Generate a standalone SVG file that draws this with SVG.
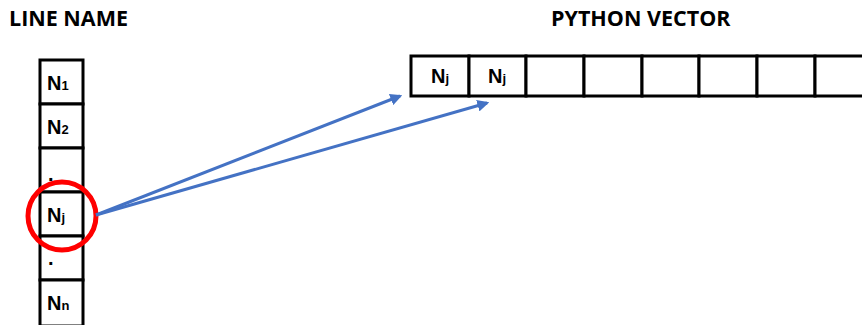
<svg xmlns="http://www.w3.org/2000/svg" width="862" height="325" viewBox="0 0 862 325">
  <style>
    .title { font-family: "Open Sans", "Liberation Sans", sans-serif; font-weight: bold; font-size: 21.5px; fill: #000; }
    .lbl { font-family: "Liberation Sans", Arial, sans-serif; font-weight: bold; font-size: 20px; fill: #000; }
    .sub { font-size: 13px; }
    .cell { fill: #fff; stroke: #000; stroke-width: 3; }
    .conn { stroke: #4472C4; stroke-width: 3; fill: none; marker-end: url(#arrow); }
  </style>
  <defs>
    <marker id="arrow" viewBox="0 0 10 10" refX="8" refY="5" markerWidth="4" markerHeight="4" orient="auto" markerUnits="strokeWidth">
      <path d="M0,0 L10,5 L0,10 z" fill="#4472C4"/>
    </marker>
  </defs>

  <rect width="862" height="325" fill="#fff"/>

  <text class="title" x="9" y="26">LINE NAME</text>
  <text class="title" x="551" y="26">PYTHON VECTOR</text>

  <!-- line name column -->
  <g id="col-n1">
    <rect class="cell" x="40" y="60" width="43" height="44"/>
    <text class="lbl" x="47" y="90">N<tspan class="sub">1</tspan></text>
  </g>
  <g id="col-n2">
    <rect class="cell" x="40" y="104" width="43" height="44"/>
    <text class="lbl" x="47" y="134">N<tspan class="sub">2</tspan></text>
  </g>
  <g id="col-dot1">
    <rect class="cell" x="40" y="148" width="43" height="44"/>
    <text class="lbl" x="48" y="181">.</text>
  </g>
  <g id="col-nj">
    <rect class="cell" x="40" y="192" width="43" height="44"/>
    <text class="lbl" x="47" y="222">N<tspan class="sub">j</tspan></text>
  </g>
  <g id="col-dot2">
    <rect class="cell" x="40" y="236" width="43" height="44"/>
    <text class="lbl" x="48" y="265">.</text>
  </g>
  <g id="col-nn">
    <rect class="cell" x="40" y="280" width="43" height="46"/>
    <text class="lbl" x="47" y="310">N<tspan class="sub">n</tspan></text>
  </g>

  <!-- highlight ring -->
  <g id="highlight">
    <circle cx="62" cy="216" r="34" fill="none" stroke="#FF0000" stroke-width="5"/>
  </g>

  <!-- python vector -->
  <g id="vec-0">
    <rect class="cell" x="411" y="56" width="58" height="40"/>
    <text class="lbl" x="431" y="83">N<tspan class="sub">j</tspan></text>
  </g>
  <g id="vec-1">
    <rect class="cell" x="469" y="56" width="57" height="40"/>
    <text class="lbl" x="488" y="83">N<tspan class="sub">j</tspan></text>
  </g>
  <g id="vec-2"><rect class="cell" x="526" y="56" width="58" height="40"/></g>
  <g id="vec-3"><rect class="cell" x="584" y="56" width="58" height="40"/></g>
  <g id="vec-4"><rect class="cell" x="642" y="56" width="57" height="40"/></g>
  <g id="vec-5"><rect class="cell" x="699" y="56" width="58" height="40"/></g>
  <g id="vec-6"><rect class="cell" x="757" y="56" width="58" height="40"/></g>
  <g id="vec-7"><rect class="cell" x="815" y="56" width="60" height="40"/></g>

  <!-- connectors -->
  <g id="connectors">
    <line class="conn" x1="96" y1="215" x2="400" y2="96"/>
    <line class="conn" x1="96" y1="215" x2="487" y2="103"/>
  </g>
</svg>
